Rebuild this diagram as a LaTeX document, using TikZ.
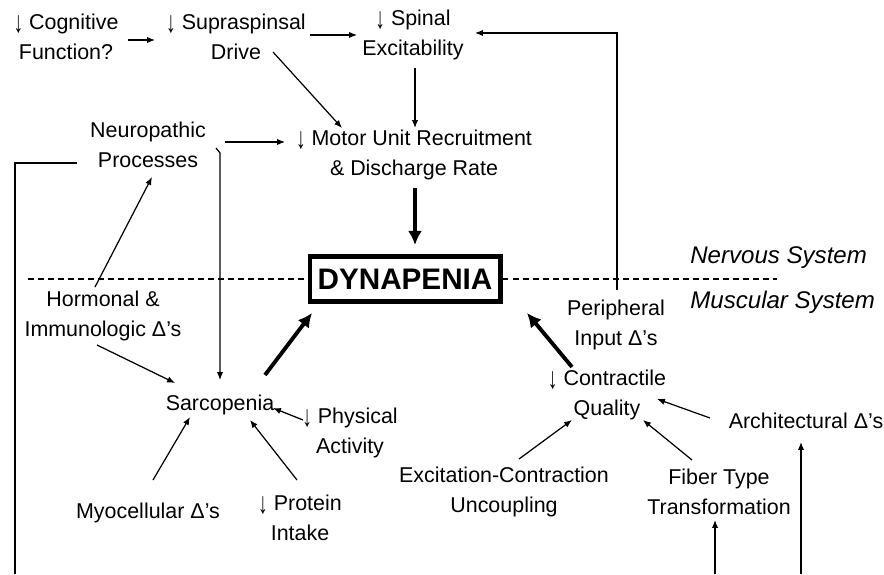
\documentclass[tikz,border=0pt]{standalone}
\usepackage{fontspec}
\usepackage{graphicx}
\setmainfont{Liberation Sans}
\usetikzlibrary{arrows.meta,positioning,calc}
\newcommand{\dn}{\raisebox{-0.14em}{\scalebox{0.9}[1.4]{↓}}}

\begin{document}
\begin{tikzpicture}[
    x=0.02cm, y=-0.02cm,
    label/.style={align=center, inner sep=3pt, font=\fontsize{12.2}{17}\selectfont},
    system/.style={anchor=west, inner sep=0pt, font=\fontsize{13.7}{15}\selectfont\itshape},
    core/.style={draw, line width=2.3pt, minimum width=3.82cm, minimum height=0.9cm, font=\fontsize{16.9}{18}\selectfont\bfseries},
    arrow/.style={-{Latex[length=4.5pt,width=3.6pt]}, line width=0.7pt},
    bigarrow/.style={-{Latex[length=8pt,width=8pt]}, line width=2.2pt},
    link/.style={line width=0.7pt},
    divider/.style={dash pattern=on 3.4pt off 2.3pt, line width=0.6pt}
]
\useasboundingbox (0,0) rectangle (884,574);

% nervous system
\node[label] (cog) at (66,37) {\dn\ Cognitive\\Function?};
\node[label] (supra) at (236,37) {\dn\ Supraspinsal\\Drive};
\node[label] (spinal) at (413,35) {\dn\ Spinal\\Excitability};
\node[label] (neuro) at (148,145) {Neuropathic\\Processes};
\node[label] (motor) at (414,155) {\dn\ Motor Unit Recruitment\\\& Discharge Rate};

\node[core] (dyn) at (405,279) {DYNAPENIA};
\node[system] (nerv) at (690,258) {Nervous System};
\node[system] (musc) at (690,302) {Muscular System};
\coordinate (dl) at (28,279);
\coordinate (dr) at (777,279);

% muscular system
\node[label] (horm) at (103,316) {Hormonal \&\\Immunologic Δ’s};
\node[label] (periph) at (616,325) {Peripheral\\Input Δ’s};
\node[label] (sarco) at (220,405) {Sarcopenia};
\node[label] (phys) at (350,433) {\dn\ Physical\\Activity};
\node[label] (contr) at (607,395) {\dn\ Contractile\\Quality};
\node[label] (arch) at (806,421) {Architectural Δ’s};
\node[label] (excit) at (504,492) {Excitation-Contraction\\Uncoupling};
\node[label] (fiber) at (719,492) {Fiber Type\\Transformation};
\node[label] (myo) at (148,513) {Myocellular Δ’s};
\node[label] (prot) at (300,518) {\dn\ Protein\\Intake};
\coordinate (fbl) at (15,574);
\coordinate (fbot) at (715,574);
\coordinate (abot) at (801,574);

\draw[divider] (dl) -- (dyn.west);
\draw[divider] (dyn.east) -- (dr);

\draw[arrow] ([shift={(62,3)}]cog.center) -- ([shift={(-81,3)}]supra.center);
\draw[arrow] ([shift={(74,-2)}]supra.center) -- ([shift={(-56,0)}]spinal.center);
\draw[arrow] ([shift={(37,15)}]supra.center) -- ([shift={(-72,-27)}]motor.center);
\draw[arrow] ([shift={(2,33)}]spinal.center) -- ([shift={(1,-27)}]motor.center);
\draw[arrow] ([shift={(1,-35)}]periph.center) |- ([shift={(62,-2)}]spinal.center);
\draw[arrow] ([shift={(77,-3)}]neuro.center) -- ([shift={(-129,-13)}]motor.center);
\draw[arrow] ([shift={(68,3)}]neuro.center) -- ++(4,5) -- ([shift={(0,-25)}]sarco.center);
\draw[link] ([shift={(-71,18)}]neuro.center) -| (fbl);
\draw[arrow] ([shift={(-8,-29)}]horm.center) -- ([shift={(4,32)}]neuro.center);
\draw[bigarrow] ([shift={(1,33)}]motor.center) -- ([shift={(10,-34)}]dyn.center);

\draw[arrow] ([shift={(-6,29)}]horm.center) -- ([shift={(-45,-22)}]sarco.center);
\draw[bigarrow] ([shift={(45,-30)}]sarco.center) -- ([shift={(-93,34)}]dyn.center);
\draw[arrow] ([shift={(-47,-13)}]phys.center) -- ([shift={(53,3)}]sarco.center);
\draw[arrow] ([shift={(5,-33)}]myo.center) -- ([shift={(-30,12)}]sarco.center);
\draw[arrow] ([shift={(-3,-38)}]prot.center) -- ([shift={(30,15)}]sarco.center);

\draw[bigarrow] ([shift={(-35,-28)}]contr.center) -- ([shift={(122,34)}]dyn.center);
\draw[arrow] ([shift={(-96,-3)}]arch.center) -- ([shift={(50,4)}]contr.center);
\draw[arrow] ([shift={(15,-33)}]excit.center) -- ([shift={(-35,25)}]contr.center);
\draw[arrow] ([shift={(-27,-32)}]fiber.center) -- ([shift={(36,25)}]contr.center);
\draw[arrow] (fbot) -- ([shift={(-4,28)}]fiber.center);
\draw[arrow] (abot) -- ([shift={(-5,21)}]arch.center);

\end{tikzpicture}
\end{document}
